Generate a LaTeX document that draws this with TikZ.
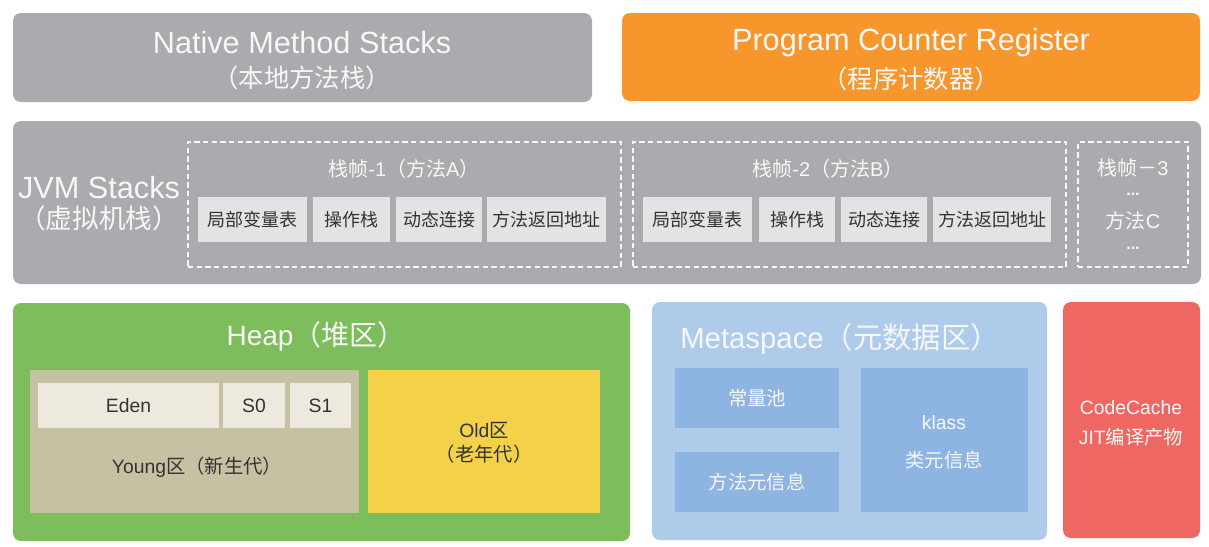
\documentclass[tikz,border=0pt]{standalone}
\usepackage{fontspec}
\setmainfont{Liberation Sans}
\newfontfamily\cjk{Noto Sans CJK SC}
\definecolor{cgray}{HTML}{ABAAAE}
\definecolor{corange}{HTML}{F7962B}
\definecolor{clight}{HTML}{E3E3E5}
\definecolor{cgreen}{HTML}{7DBD5B}
\definecolor{cyoung}{HTML}{C7C1A3}
\definecolor{ceden}{HTML}{EDE9DF}
\definecolor{cold}{HTML}{F3D24A}
\definecolor{cmeta}{HTML}{AECBEA}
\definecolor{cmetain}{HTML}{8EB4E2}
\definecolor{ccode}{HTML}{EE6762}
\definecolor{ctxt}{HTML}{F7F7F7}
\definecolor{cdark}{HTML}{333333}
\newcommand\bx[7][]{%
  \node[outer sep=0pt, inner sep=0pt, align=center, #1,
        minimum width={(#5-#3)*0.75pt}, minimum height={(#6-#4)*0.75pt}]
        (#2) at ({(#3+#5)/2},{(#4+#6)/2}) {#7};}
\tikzset{
  big/.style={fill=cgray, rounded corners=6pt},
  bigfont/.style={text=ctxt, font=\fontsize{23}{27}\selectfont},
  subfont/.style={text=ctxt, font=\cjk\fontsize{19}{22}\selectfont},
  frame/.style={draw=ctxt, line width=0.9pt, dash pattern=on 4pt off 2.5pt},
  cell/.style={fill=clight, text=cdark, font=\fontsize{13.5}{16}\selectfont},
  ttl/.style={text=ctxt, align=center, inner sep=0pt},
  mid/.style={font=\fontsize{14.5}{20}\selectfont},
  dots/.style={text=ctxt, inner sep=0pt, font=\bfseries\fontsize{12}{14}\selectfont},
}
\begin{document}
\begin{tikzpicture}[x=0.75pt, y=-0.75pt]
\useasboundingbox[fill=white] (0,0) rectangle (1209,546);
% top row
\bx[big]{nms}{13}{13}{592}{102}{}
\node[ttl, bigfont] (nmst) at (302,43) {Native Method Stacks};
\node[ttl, subfont] (nmss) at (302,78) {（本地方法栈）};
\bx[big, fill=corange]{pcr}{622}{13}{1200}{101}{}
\node[ttl, bigfont] (pcrt) at (911,43) {Program Counter Register};
\node[ttl, subfont] (pcrs) at (911,79) {（程序计数器）};
% JVM stacks
\bx[big]{jvm}{13}{121}{1201}{284}{}
\node[ttl, bigfont] (jvmt) at (99,188) {JVM Stacks};
\node[ttl, subfont, font=\cjk\fontsize{20}{24}\selectfont] (jvms) at (99,218) {（虚拟机栈）};
% frame 1
\bx[frame]{f1}{188}{142}{621}{267}{}
\node[ttl, font=\fontsize{15}{18}\selectfont] (f1t) at (404,169) {{\cjk 栈帧}-1{\cjk （方法}A{\cjk ）}};
\bx[cell]{a1}{198}{197}{307}{242}{\cjk 局部变量表}
\bx[cell]{a2}{313}{197}{390}{242}{\cjk 操作栈}
\bx[cell]{a3}{396}{197}{482}{242}{\cjk 动态连接}
\bx[cell]{a4}{487}{197}{606}{242}{\cjk 方法返回地址}
% frame 2
\bx[frame]{f2}{633}{142}{1066}{267}{}
\node[ttl, font=\fontsize{15}{18}\selectfont] (f2t) at (828,169) {{\cjk 栈帧}-2{\cjk （方法}B{\cjk ）}};
\bx[cell]{b1}{643}{197}{752}{242}{\cjk 局部变量表}
\bx[cell]{b2}{759}{197}{835}{242}{\cjk 操作栈}
\bx[cell]{b3}{841}{197}{927}{242}{\cjk 动态连接}
\bx[cell]{b4}{933}{197}{1051}{242}{\cjk 方法返回地址}
% frame 3
\bx[frame]{f3}{1078}{142}{1188}{267}{}
\node[ttl, font=\fontsize{15}{18}\selectfont] (f3a) at (1133,168) {{\cjk 栈帧－}3};
\node[dots] (f3b) at (1133,194) {...};
\node[ttl, font=\fontsize{15}{18}\selectfont] (f3c) at (1133,221) {{\cjk 方法}C};
\node[dots] (f3d) at (1133,248) {...};
% heap
\bx[fill=cgreen, rounded corners=6pt]{heap}{13}{303}{630}{541}{}
\node[ttl, font=\fontsize{21}{24}\selectfont] (heapt) at (316,336) {Heap{\cjk （堆区）}};
\bx[fill=cyoung]{young}{30}{370}{359}{513}{}
\bx[fill=ceden, text=cdark, mid]{eden}{38}{383}{219}{428}{Eden}
\bx[fill=ceden, text=cdark, mid]{s0}{223}{383}{285}{428}{S0}
\bx[fill=ceden, text=cdark, mid]{s1}{290}{383}{351}{428}{S1}
\node[text=cdark, mid, inner sep=0pt] (youngt) at (197,467) {Young{\cjk 区（新生代）}};
\bx[fill=cold, text=cdark, mid]{old}{368}{370}{600}{513}{}
\node[text=cdark, mid, inner sep=0pt] (oldt) at (484,430) {Old{\cjk 区}};
\node[text=cdark, mid, inner sep=0pt] (olds) at (484,454) {\cjk （老年代）};
% metaspace
\bx[fill=cmeta, rounded corners=6pt]{meta}{652}{302}{1047}{540}{}
\node[ttl, font=\fontsize{22}{25}\selectfont] (metat) at (840,339) {Metaspace{\cjk （元数据区）}};
\bx[fill=cmetain, text=ctxt, mid]{pool}{675}{368}{839}{428}{\cjk 常量池}
\bx[fill=cmetain, text=ctxt, mid]{minfo}{675}{452}{839}{512}{\cjk 方法元信息}
\bx[fill=cmetain]{klass}{861}{368}{1028}{512}{}
\node[ttl, mid] (klasst) at (944,423) {klass};
\node[ttl, mid] (klasss) at (944,460) {\cjk 类元信息};
% code cache
\bx[fill=ccode, rounded corners=6pt]{code}{1063}{302}{1200}{538}{}
\node[ttl, mid] (codet) at (1131,408) {CodeCache};
\node[ttl, mid] (codes) at (1131,437) {JIT{\cjk 编译产物}};
\end{tikzpicture}
\end{document}
